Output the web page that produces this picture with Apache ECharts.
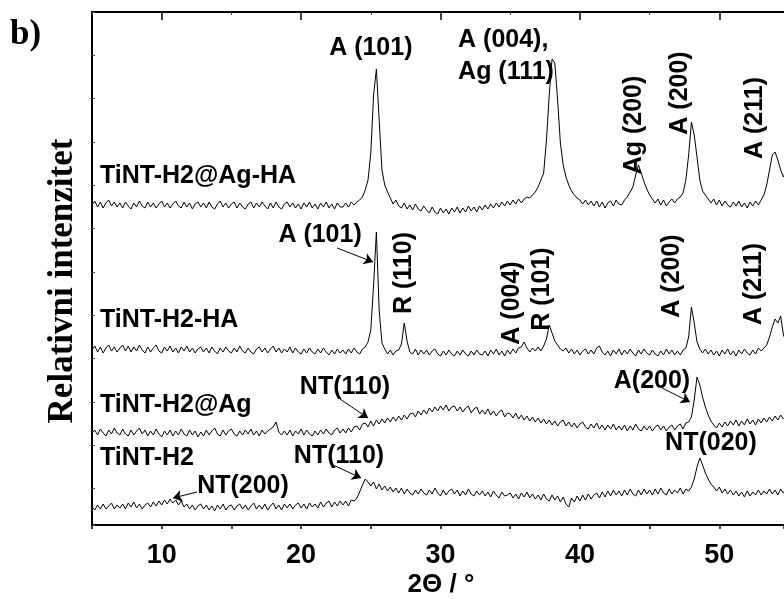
<!DOCTYPE html>
<html><head><meta charset="utf-8">
<script src="https://cdn.jsdelivr.net/npm/echarts@6/dist/echarts.min.js"></script>
<style>html,body{margin:0;padding:0;background:#fff}#c{width:784px;height:599px}</style>
</head><body><div id="c"></div>
<script>
// 2θ sampling grid (degrees)
const twoTheta = [
5,5.2,5.4,5.6,5.8,6,6.2,6.4,6.6,6.8,
7,7.2,7.4,7.6,7.8,8,8.2,8.4,8.6,8.8,
9,9.2,9.4,9.6,9.8,10,10.2,10.4,10.6,10.8,
11,11.2,11.4,11.6,11.8,12,12.2,12.4,12.6,12.8,
13,13.2,13.4,13.6,13.8,14,14.2,14.4,14.6,14.8,
15,15.2,15.4,15.6,15.8,16,16.2,16.4,16.6,16.8,
17,17.2,17.4,17.6,17.8,18,18.2,18.4,18.6,18.8,
19,19.2,19.4,19.6,19.8,20,20.2,20.4,20.6,20.8,
21,21.2,21.4,21.6,21.8,22,22.2,22.4,22.6,22.8,
23,23.2,23.4,23.6,23.8,24,24.2,24.4,24.6,24.8,
25,25.2,25.4,25.6,25.8,26,26.2,26.4,26.6,26.8,
27,27.2,27.4,27.6,27.8,28,28.2,28.4,28.6,28.8,
29,29.2,29.4,29.6,29.8,30,30.2,30.4,30.6,30.8,
31,31.2,31.4,31.6,31.8,32,32.2,32.4,32.6,32.8,
33,33.2,33.4,33.6,33.8,34,34.2,34.4,34.6,34.8,
35,35.2,35.4,35.6,35.8,36,36.2,36.4,36.6,36.8,
37,37.2,37.4,37.6,37.8,38,38.2,38.4,38.6,38.8,
39,39.2,39.4,39.6,39.8,40,40.2,40.4,40.6,40.8,
41,41.2,41.4,41.6,41.8,42,42.2,42.4,42.6,42.8,
43,43.2,43.4,43.6,43.8,44,44.2,44.4,44.6,44.8,
45,45.2,45.4,45.6,45.8,46,46.2,46.4,46.6,46.8,
47,47.2,47.4,47.6,47.8,48,48.2,48.4,48.6,48.8,
49,49.2,49.4,49.6,49.8,50,50.2,50.4,50.6,50.8,
51,51.2,51.4,51.6,51.8,52,52.2,52.4,52.6,52.8,
53,53.2,53.4,53.6,53.8,54,54.2,54.4,54.6,54.8,
55];

// stacked (offset) intensities, arbitrary units
const tintH2 = [
18,15,20,16,21,16,19,22,16,20,
17,21,16,22,18,23,17,21,16,20,
22,18,23,19,24,20,25,21,26,22,
25,20,24,18,21,16,20,15,19,21,
16,20,15,19,14,20,16,21,15,19,
20,15,19,21,16,20,15,19,22,16,
20,16,21,15,19,22,16,20,15,21,
17,21,16,20,22,17,21,16,22,18,
21,17,23,18,22,24,18,23,19,24,
20,24,19,25,24,27,33,40,46,43,
39,43,36,41,35,39,34,38,33,37,
32,37,31,36,32,30,35,31,36,32,
30,35,31,37,32,29,35,30,34,36,
31,35,29,34,30,36,31,29,34,30,
34,29,33,28,34,30,27,33,29,30,
32,27,31,26,32,28,33,27,31,26,
30,25,31,26,24,30,25,29,23,28,
21,18,27,23,29,24,30,25,31,26,
30,32,27,33,28,34,29,35,30,34,
29,35,30,36,31,29,35,30,36,31,
35,30,36,31,37,32,30,36,31,35,
32,37,31,36,34,38,46,58,67,60,
52,46,41,38,34,38,32,36,31,35,
30,34,29,33,28,34,29,33,30,35,
30,34,31,36,31,35,30,36,32,37,
34];

const tintH2Ag = [
92,95,90,96,92,89,95,91,97,92,
90,96,91,89,95,90,94,97,91,95,
89,94,90,96,91,88,94,90,95,89,
94,90,96,91,89,95,90,94,88,93,
89,95,90,94,97,91,89,95,90,94,
96,91,89,94,90,95,91,96,90,94,
89,95,91,94,96,98,103,93,90,94,
90,95,89,94,91,96,90,95,91,89,
94,90,95,91,96,92,90,95,97,92,
96,92,97,93,98,99,95,101,102,98,
104,99,105,101,106,102,107,103,108,104,
109,105,110,106,111,112,108,114,110,115,
111,117,113,118,114,119,115,120,114,118,
119,114,118,113,117,119,112,116,118,111,
115,111,116,110,114,109,113,115,108,112,
111,107,112,106,110,105,109,104,108,103,
107,102,106,101,105,100,104,99,103,105,
99,103,98,102,97,101,103,98,96,101,
97,102,96,100,95,100,96,101,95,99,
95,100,94,99,95,101,96,94,99,95,
99,94,98,100,95,99,94,98,100,95,
99,101,96,102,103,108,125,148,140,128,
118,110,104,100,97,102,98,103,99,104,
100,105,99,104,100,106,101,105,100,106,
102,107,103,108,104,109,105,110,106,109,
107];

const tintH2HA = [
175,179,173,178,172,177,180,174,178,173,
177,180,174,179,173,178,174,180,175,172,
178,173,177,180,174,172,178,174,179,173,
177,172,178,174,179,173,177,172,176,178,
173,177,172,178,174,171,177,173,178,174,
172,177,173,179,174,172,177,173,171,176,
178,173,177,172,176,179,173,177,172,176,
173,178,172,177,173,171,176,172,177,173,
171,176,172,177,173,170,175,171,176,172,
175,171,176,172,177,173,171,176,178,183,
195,240,293,215,182,176,171,175,170,174,
175,181,202,184,173,171,176,170,175,171,
175,170,174,176,171,169,174,170,175,171,
169,174,170,175,171,169,174,170,175,171,
170,174,169,175,171,176,170,174,169,175,
171,176,172,177,178,183,177,173,177,174,
178,174,179,186,200,192,184,180,176,174,
177,172,176,171,175,170,174,176,171,175,
171,177,179,173,170,174,169,175,171,176,
170,175,171,176,172,169,175,171,176,172,
170,175,171,169,174,170,176,171,175,170,
174,170,175,177,188,218,202,183,176,172,
176,171,175,170,174,169,175,171,176,170,
174,169,175,171,176,172,170,175,171,177,
174,177,180,188,198,206,202,209,190,183,
195];

const tintH2AgHA = [
320,324,318,323,317,322,325,319,323,318,
322,317,323,319,316,322,318,324,319,317,
323,318,322,317,321,324,318,322,317,321,
324,319,317,323,318,322,316,321,323,318,
322,317,323,318,316,321,324,318,322,317,
321,323,317,322,318,316,321,323,317,322,
318,323,319,316,322,317,323,318,316,321,
323,318,322,317,321,316,322,318,323,317,
321,316,322,318,323,317,321,316,322,318,
318,322,318,323,320,323,325,328,335,345,
372,430,456,405,355,340,333,327,321,325,
319,317,322,316,320,315,321,316,314,319,
315,312,318,313,311,317,312,316,311,317,
313,318,312,317,313,319,314,318,313,319,
315,320,316,321,317,322,318,323,319,324,
320,325,321,326,322,326,328,327,330,333,
338,345,352,385,430,466,462,425,382,360,
348,340,334,330,327,325,321,325,320,324,
319,324,318,323,317,322,324,319,325,321,
320,325,328,333,338,350,360,352,343,336,
330,326,322,326,320,325,319,323,326,322,
326,328,332,345,370,403,390,368,345,334,
330,326,322,326,320,325,319,324,320,318,
323,319,324,318,322,317,323,319,324,320,
325,330,340,355,370,373,365,355,348,355,
362];

const sampleSeries = [tintH2, tintH2Ag, tintH2HA, tintH2AgHA];
const xTickValues = [10, 20, 30, 40, 50];

// peak / sample annotations (text, 2θ, intensity, rotation, align)
const annotations = [
  {t:'A (101)', x:25.0, y:477, r:0, a:'center'},
  {t:'A (004),', x:31.26, y:485, r:0, a:'left'},
  {t:'Ag (111)', x:31.26, y:453, r:0, a:'left'},
  {t:'Ag (200)', x:43.88, y:400, r:90, a:'center'},
  {t:'A (200)', x:47.18, y:432, r:90, a:'center'},
  {t:'A (211)', x:52.56, y:407, r:90, a:'center'},
  {t:'TiNT-H2@Ag-HA', x:5.57, y:349, r:0, a:'left'},
  {t:'A (101)', x:21.36, y:290, r:0, a:'center'},
  {t:'R (110)', x:27.38, y:252, r:90, a:'center'},
  {t:'A (004)', x:35.13, y:222, r:90, a:'center'},
  {t:'R (101)', x:37.28, y:236, r:90, a:'center'},
  {t:'A (200)', x:46.61, y:249, r:90, a:'center'},
  {t:'A (211)', x:52.49, y:241, r:90, a:'center'},
  {t:'TiNT-H2-HA', x:5.57, y:205, r:0, a:'left'},
  {t:'TiNT-H2@Ag', x:5.57, y:120, r:0, a:'left'},
  {t:'NT(110)', x:23.15, y:138, r:0, a:'center'},
  {t:'A(200)', x:45.17, y:144, r:0, a:'center'},
  {t:'TiNT-H2', x:5.57, y:67, r:0, a:'left'},
  {t:'NT(110)', x:22.72, y:69, r:0, a:'center'},
  {t:'NT(200)', x:15.83, y:39, r:0, a:'center'},
  {t:'NT(020)', x:49.4, y:82, r:0, a:'center'}
];
// arrows: [x0, y0, x1(tip), y1(tip)]
const arrows = [
  [22.58, 277, 25.16, 263],
  [22.79, 126, 24.80, 107],
  [45.89, 137, 47.90, 123],
  [22.29, 60, 24.30, 47],
  [12.53, 33, 10.81, 27]
];

const chart = echarts.init(document.getElementById('c'), null, {renderer:'canvas'});
const sans = 'Liberation Sans, Arial, sans-serif';
const serif = 'Liberation Serif, Times New Roman, serif';
const xMin = 5, xMax = 54.64;

const lineSeries = sampleSeries.map(arr => ({
  type:'line', xAxisIndex:0, yAxisIndex:0, showSymbol:false, symbol:'none',
  lineStyle:{color:'#000', width:1}, silent:true, animation:false,
  data: twoTheta.map((x,i)=>[x, arr[i]])
}));

const staticGraphic = [
  {type:'text', left:10, top:17, style:{text:'b)', font:'bold 35px '+serif, fill:'#000'}},
  {type:'text', x:441, y:585, style:{text:'2\u0398 / \u00b0', font:'bold 26px '+sans, fill:'#000', align:'center', verticalAlign:'middle'}},
  {type:'text', x:63, y:281, rotation:Math.PI/2, style:{text:'Relativni intenzitet', font:'bold 35px '+serif, fill:'#000', align:'center', verticalAlign:'middle'}}
];

chart.setOption({
  animation:false,
  grid:{left:92, top:12, width:692, height:513, containLabel:false, outerBoundsMode:'none'},
  xAxis:[
    {type:'value', position:'bottom', min:xMin, max:xMax, interval:5,
     axisLine:{lineStyle:{color:'#000', width:2}},
     axisTick:{show:true, inside:false, length:4, lineStyle:{color:'#000', width:1.5}},
     axisLabel:{formatter:v => (v % 10 === 0 ? String(v) : ''), color:'#000', fontFamily:sans, fontWeight:'bold', fontSize:27, margin:17},
     splitLine:{show:false}},
    {type:'value', position:'bottom', min:xMin, max:xMax,
     axisLine:{show:false},
     axisTick:{show:true, inside:false, length:8, customValues:xTickValues, lineStyle:{color:'#000', width:1.5}},
     axisLabel:{show:false}, splitLine:{show:false}},
    {type:'value', position:'top', min:xMin, max:xMax, interval:5,
     axisLine:{lineStyle:{color:'#000', width:2}},
     axisTick:{show:true, inside:true, length:3, lineStyle:{color:'#444', width:1}},
     axisLabel:{show:false}, splitLine:{show:false}}
  ],
  yAxis:[
    {type:'value', position:'left', min:0, max:513,
     axisLine:{show:true, lineStyle:{color:'#000', width:2}},
     axisTick:{show:false}, axisLabel:{show:false}, splitLine:{show:false}},
    {type:'value', position:'left', inverse:true, min:0, max:11.84, interval:1,
     axisLine:{show:false},
     axisTick:{show:true, inside:true, length:3, lineStyle:{color:'#555', width:1}},
     axisLabel:{show:false}, splitLine:{show:false}}
  ],
  series:[
    ...lineSeries,
    {type:'line', xAxisIndex:0, yAxisIndex:0, data:[], silent:true,
     markLine:{silent:true, symbol:['none','arrow'], symbolSize:9, animation:false,
       label:{show:false}, lineStyle:{color:'#000', width:1, type:'solid'},
       data: arrows.map(a => [{coord:[a[0], a[1]]}, {coord:[a[2], a[3]]}])}
    }
  ],
  graphic: staticGraphic
});

// annotation texts placed through the chart's own scales
const annGraphic = annotations.map(a => {
  const p = chart.convertToPixel({xAxisIndex:0, yAxisIndex:0}, [a.x, a.y]);
  return {type:'text', x:p[0], y:p[1], rotation: a.r ? a.r * Math.PI / 180 : 0,
    silent:true,
    style:{text:a.t, font:'bold 25px '+sans, fill:'#000', align:a.a, verticalAlign:'middle'}};
});
chart.setOption({graphic: staticGraphic.concat(annGraphic)});
</script>
</body></html>
